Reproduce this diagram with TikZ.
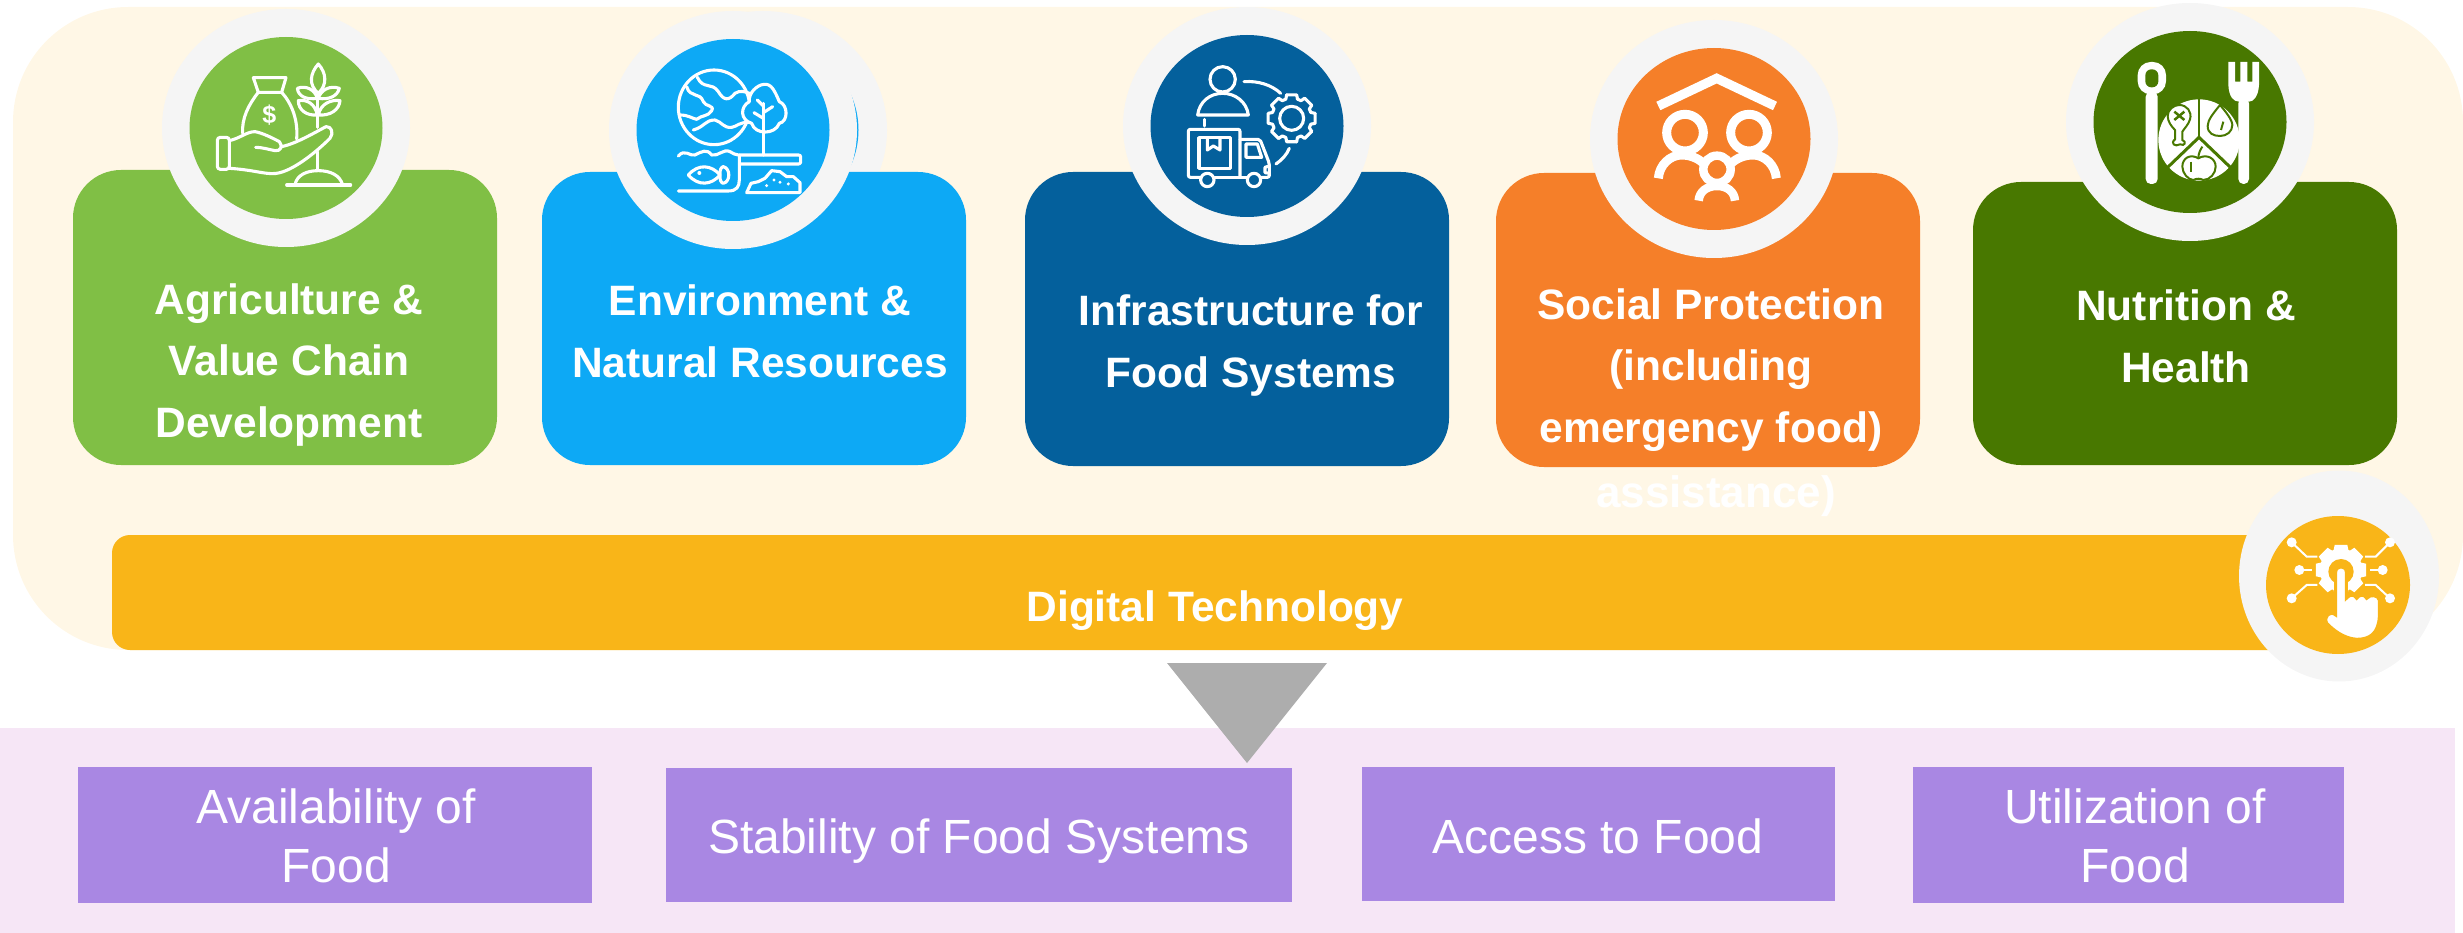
\documentclass[tikz,border=0pt]{standalone}
\usepackage{fontspec}
\setmainfont{Liberation Sans}
\usetikzlibrary{shapes.geometric}
\definecolor{creamback}{HTML}{FFF7E6}
\definecolor{ringgray}{HTML}{F5F5F5}
\definecolor{agrigreen}{HTML}{80BF45}
\definecolor{envblue}{HTML}{0DA9F5}
\definecolor{infranavy}{HTML}{04609C}
\definecolor{socialorange}{HTML}{F57F29}
\definecolor{nutrigreen}{HTML}{487800}
\definecolor{digitalamber}{HTML}{F9B518}
\definecolor{outcomepink}{HTML}{F6E6F6}
\definecolor{outcomepurple}{HTML}{A987E3}
\definecolor{arrowgray}{HTML}{ADADAD}
\tikzset{
	tilebox/.style={rectangle, rounded corners=48pt, minimum width=424pt, inner sep=0pt},
	ringouter/.style={ellipse, fill=ringgray, minimum width=248pt, minimum height=238pt, inner sep=0pt},
	ringinner/.style={ellipse, minimum width=193pt, minimum height=182pt, inner sep=0pt},
	titletext/.style={anchor=base, align=center, text=white, font=\fontsize{42.5}{61.5}\selectfont\bfseries},
	outcomebox/.style={rectangle, fill=outcomepurple, inner sep=0pt},
	outcometext/.style={anchor=base, align=center, text=white, font=\fontsize{48}{59}\selectfont},
	iconline/.style={draw=white, line width=3.1pt, line cap=round, line join=round}
}
\begin{document}
\begin{tikzpicture}[x=1pt, y=-1pt]
	\useasboundingbox (0,0) rectangle (2463,933);
	% back panels
	\fill[creamback, rounded corners=115pt] (13,7) rectangle (2463,650);
	\fill[outcomepink] (0,728) rectangle (2455,933);
	% second ring behind the environment one
	\node[ringouter] (ringenvback) at (763,130) {};
	\node[ringinner, fill=envblue] (discenvback) at (762,130) {};
	% tiles
	\foreach \nm/\cx/\top/\bot/\col in {tileagri/285/170/465/agrigreen, tileenv/754/172/465/envblue, tileinfra/1237/172/466/infranavy, tilesocial/1708/173/467/socialorange, tilenutri/2185/182/465/nutrigreen}
		\node[tilebox, fill=\col, minimum height=\bot pt-\top pt] (\nm) at (\cx, {(\top+\bot)/2}) {};
	% rings
	\foreach \nm/\cx/\cy/\col in {agri/286/128/agrigreen, env/733/130/envblue, infra/1247/126/infranavy, social/1714/139/socialorange, nutri/2190/122/nutrigreen}{
		\node[ringouter] (ring\nm) at (\cx,\cy) {};
		\node[ringinner, fill=\col] (disc\nm) at (\cx,\cy) {};
	}
	% tile texts
	\node[titletext] (textagri) at (289,437) {Agriculture \&\\Value Chain\\Development};
	\node[titletext] (textenv) at (760,377) {Environment \&\\Natural Resources};
	\node[titletext] (textinfra) at (1251,387) {Infrastructure for\\Food Systems};
	\node[titletext] (textsocial) at (1711,442) {Social Protection\\(including\\emergency food)};
	\node[titletext] (textnutri) at (2186,382) {Nutrition \&\\Health};
	\node[anchor=base, text=white, font=\fontsize{44}{50}\selectfont\bfseries] (textstray) at (1716,507) {assistance)};
	% digital bar
	\fill[digitalamber, rounded corners=18pt] (112,535) rectangle (2320,650);
	\node[titletext] (textdigital) at (1215,621) {Digital Technology};
	\node[ellipse, fill=ringgray, minimum width=200pt, minimum height=211pt, inner sep=0pt] (ringdigital) at (2339,576) {};
	\node[ellipse, fill=digitalamber, minimum width=144pt, minimum height=138pt, inner sep=0pt] (discdigital) at (2338,585) {};
	% arrow
	\fill[arrowgray] (1167,663) -- (1327,663) -- (1247,763) -- cycle;
	% outcomes
	\foreach \nm/\xa/\ya/\xb/\yb in {availbox/78/767/592/903, stabbox/666/768/1292/902, accessbox/1362/767/1835/901, utilbox/1913/767/2344/903}
		\node[outcomebox, minimum width=\xb pt-\xa pt, minimum height=\yb pt-\ya pt] (\nm) at ({(\xa+\xb)/2},{(\ya+\yb)/2}) {};
	\node[outcometext] (textavail) at (336,882) {Availability of\\Food};
	\node[outcometext] (textstab) at (979,853) {Stability of Food Systems};
	\node[outcometext] (textaccess) at (1598,853) {Access to Food};
	\node[outcometext] (textutil) at (2135,882) {Utilization of\\Food};
	% agriculture icon
	\begin{scope}[shift={(190,40)}, x=0.3333pt, y=-0.3333pt]
		\draw[iconline] (190,113) -- (288,113) -- (275,157) -- (205,157) -- cycle;
		\draw[iconline] (205,157) .. controls (175,195) and (155,235) .. (158,280);
		\draw[iconline] (275,157) .. controls (305,190) and (325,240) .. (320,297);
		\node[text=white, font=\fontsize{25}{25}\selectfont\bfseries] (dollarsign) at (238,226) {\$};
		\draw[iconline, rounded corners=3pt] (118,292) -- (82,292) -- (82,388) -- (118,388) -- cycle;
		\draw[iconline] (118,302) .. controls (150,295) and (170,275) .. (195,275) .. controls (215,278) and (250,295) .. (268,305) .. controls (280,318) and (272,335) .. (255,332) .. controls (235,328) and (215,322) .. (197,322);
		\draw[iconline] (275,320) .. controls (320,310) and (370,280) .. (408,260) .. controls (425,258) and (432,280) .. (420,295) .. controls (385,330) and (320,385) .. (270,398) .. controls (235,408) and (200,390) .. (118,385);
		\draw[iconline] (382,165) -- (382,262);
		\draw[iconline] (382,335) -- (382,392);
		\draw[iconline] (315,435) .. controls (320,405) and (350,392) .. (385,392) .. controls (420,392) and (450,405) .. (458,435);
		\draw[iconline] (290,435) -- (482,435);
		\draw[iconline] (385,72) .. controls (360,100) and (355,135) .. (385,160) .. controls (412,135) and (410,100) .. cycle;
		\draw[iconline] (322,145) .. controls (350,135) and (375,150) .. (382,175) .. controls (350,180) and (325,170) .. cycle;
		\draw[iconline] (448,145) .. controls (420,135) and (392,150) .. (385,175) .. controls (415,180) and (442,170) .. cycle;
		\draw[iconline] (325,182) .. controls (350,178) and (375,190) .. (382,225) .. controls (350,228) and (325,210) .. cycle;
		\draw[iconline] (450,182) .. controls (425,178) and (392,190) .. (385,225) .. controls (420,228) and (448,210) .. cycle;
	\end{scope}
	% environment icon
	\begin{scope}[shift={(640,40)}, x=0.3333pt, y=-0.3333pt]
		\draw[iconline] (222,202) ellipse [x radius=107, y radius=112];
		\draw[iconline] (172,112) .. controls (190,150) and (215,125) .. (235,155) .. controls (250,180) and (265,185) .. (285,160) .. controls (300,150) and (315,155) .. (328,160);
		\draw[iconline] (140,140) .. controls (150,175) and (180,155) .. (190,185) .. controls (195,200) and (225,195) .. (215,212) .. controls (205,230) and (185,225) .. (170,238) .. controls (155,235) and (145,225) .. (120,225);
		\draw[iconline] (160,270) .. controls (195,260) and (195,240) .. (225,240) .. controls (245,245) and (250,265) .. (275,262) .. controls (290,260) and (300,245) .. (325,248);
		\draw[iconline, fill=envblue] (372,133) .. controls (395,130) and (405,155) .. (418,185) .. controls (445,195) and (445,245) .. (418,250) .. controls (405,285) and (345,285) .. (335,250) .. controls (300,240) and (300,200) .. (328,185) .. controls (325,160) and (350,135) .. cycle;
		\draw[iconline] (370,190) -- (370,345);
		\draw[iconline] (352,180) -- (370,198);
		\draw[iconline] (398,200) -- (370,218);
		\draw[iconline] (342,218) -- (370,235);
		\draw[iconline] (115,348) .. controls (135,325) and (150,350) .. (165,345) .. controls (185,335) and (200,325) .. (215,345) .. controls (235,350) and (250,325) .. (270,335) .. controls (280,340) and (285,345) .. (295,345);
		\draw[iconline] (115,453) -- (265,453) .. controls (290,453) and (298,440) .. (298,420) -- (298,345);
		\draw[iconline, rounded corners=2pt] (298,345) -- (482,345) -- (482,372) -- (298,372);
		\draw[iconline] (145,405) .. controls (175,370) and (215,375) .. (240,405) .. controls (215,435) and (175,440) .. cycle;
		\draw[iconline] (240,405) .. controls (238,390) and (245,380) .. (250,380) .. controls (272,385) and (272,425) .. (250,430) .. controls (245,430) and (238,420) .. (240,405);
		\fill[white] (178,399) circle [radius=6];
		\draw[iconline] (320,458) -- (333,430) -- (355,425) -- (375,415) -- (395,392) -- (420,395) -- (440,410) -- (460,410) -- (480,428) -- (480,458) -- cycle;
		\foreach \dx/\dy in {380/437, 402/420, 420/427, 445/432}
			\fill[white] (\dx,\dy) circle [radius=5];
	\end{scope}
	% infrastructure icon
	\begin{scope}[shift={(1150,40)}, x=0.3333pt, y=-0.3333pt]
		\draw[iconline] (218,118) circle [radius=38];
		\draw[iconline] (143,225) -- (295,225) .. controls (290,185) and (255,160) .. (218,160) .. controls (180,160) and (148,185) .. cycle;
		\draw[iconline] (282,125) .. controls (325,122) and (365,135) .. (392,160);
		\draw[iconline] (418,325) .. controls (410,345) and (395,360) .. (378,372);
		\draw[iconline] (163,238) -- (163,258);
		\draw[iconline] (425,235) circle [radius=36];
		\foreach \a in {0,45,...,315}
			\draw[iconline] ([shift={(425,235)}]\a-12:72) -- ([shift={(425,235)}]\a+12:72) -- ([shift={(425,235)}]\a+17:60) -- ([shift={(425,235)}]\a+28:60) -- ([shift={(425,235)}]\a+33:72);
		\draw[iconline, rounded corners=2pt] (152,412) -- (115,412) -- (115,268) -- (270,268) -- (270,412);
		\draw[iconline, rounded corners=2pt] (270,298) -- (330,298) -- (358,370) -- (358,412) -- (335,412);
		\draw[iconline] (195,412) -- (290,412);
		\draw[iconline] (172,420) circle [radius=20];
		\draw[iconline] (312,420) circle [radius=20];
		\draw[iconline] (147,293) rectangle (242,385);
		\draw[iconline] (172,293) -- (172,330) -- (190,318) -- (210,330) -- (210,293);
		\draw[iconline] (288,312) -- (322,312) -- (335,352) -- (288,352) -- cycle;
		\draw[iconline] (358,378) -- (345,382) -- (345,398) -- (358,400);
	\end{scope}
	% social icon
	\begin{scope}[shift={(1620,50)}, x=0.3333pt, y=-0.3333pt, white]
		\draw[line width=9.3pt] (115,168) -- (290,85) -- (465,168);
		\foreach \hx in {195,387}
			\draw[line width=9pt] (\hx,248) circle [radius=55];
		\draw[line width=9pt] (115,385) .. controls (118,345) and (150,315) .. (185,315) .. controls (210,315) and (235,325) .. (250,340);
		\draw[line width=9pt] (469,385) .. controls (466,345) and (434,315) .. (399,315) .. controls (374,315) and (349,325) .. (334,340);
		\draw[line width=8.5pt] (291,358) circle [radius=41];
		\draw[line width=8.5pt] (236,452) .. controls (238,425) and (260,408) .. (291,408) .. controls (322,408) and (343,425) .. (345,452);
	\end{scope}
	% nutrition icon
	\begin{scope}[shift={(2095,30)}, x=0.3333pt, y=-0.3333pt]
		\fill[white, rounded corners=13pt] (128,96) rectangle (213,193);
		\fill[nutrigreen, rounded corners=6pt] (151,118) rectangle (190,172);
		\fill[white, rounded corners=5pt] (152,185) rectangle (188,462);
		\fill[white, rounded corners=5pt] (430,205) rectangle (462,462);
		\fill[white] (400,96) -- (420,96) -- (420,155) -- (436,155) -- (436,96) -- (457,96) -- (457,155) -- (472,155) -- (472,96) -- (492,96) -- (492,165) .. controls (490,200) and (475,215) .. (462,215) -- (432,215) .. controls (415,215) and (402,200) .. (400,165) -- cycle;
		\fill[white] (312,330) circle [radius=122];
		\draw[nutrigreen, line width=2pt] (312,205) -- (312,322);
		\draw[nutrigreen, line width=3pt] (218,412) -- (312,322) -- (406,412);
		\draw[nutrigreen, line width=2pt, fill=white] (253,225) .. controls (275,225) and (292,245) .. (285,268) .. controls (280,285) and (268,295) .. (262,305) -- (262,330) .. controls (275,335) and (270,350) .. (255,343) .. controls (240,352) and (225,340) .. (240,328) -- (240,300) .. controls (230,290) and (218,275) .. (218,258) .. controls (218,240) and (235,225) .. cycle;
		\draw[nutrigreen, line width=2.5pt] (238,245) -- (268,270);
		\draw[nutrigreen, line width=2.5pt] (268,245) -- (238,270);
		\draw[nutrigreen, line width=2pt, fill=white] (375,225) .. controls (355,250) and (338,270) .. (338,288) .. controls (338,310) and (355,318) .. (375,318) .. controls (395,318) and (412,305) .. (412,285) .. controls (412,270) and (392,245) .. cycle;
		\draw[nutrigreen, line width=2pt] (385,275) -- (378,300);
		\draw[nutrigreen, line width=2pt, fill=white] (310,385) .. controls (285,370) and (262,385) .. (262,410) .. controls (262,430) and (280,450) .. (295,450) .. controls (305,445) and (315,445) .. (325,450) .. controls (345,450) and (362,430) .. (362,410) .. controls (362,385) and (335,370) .. cycle;
		\draw[nutrigreen, line width=2pt] (322,350) .. controls (315,360) and (310,372) .. (310,385);
		\draw[nutrigreen, line width=2pt] (288,395) -- (288,425);
	\end{scope}
	% digital icon
	\begin{scope}[shift={(2260,510)}, x=0.3333pt, y=-0.3333pt]
		\foreach \ax/\ay/\bx/\by/\cx/\cy in {95/97/140/140/172/140, 390/97/347/140/315/140, 118/180/135/180/155/180, 368/180/350/180/330/180, 95/265/140/225/172/225, 390/265/347/225/315/225}{
			\fill[white] (\ax,\ay) circle [radius=15];
			\draw[white, line width=2pt] (\ax,\ay) -- (\bx,\by) -- (\cx,\cy);
		}
		\fill[white] (243,180) circle [radius=64];
		\foreach \a in {0,45,...,315}
			\fill[white] ([shift={(243,180)}]\a-14:78) -- ([shift={(243,180)}]\a+14:78) -- ([shift={(243,180)}]\a+24:58) -- ([shift={(243,180)}]\a-24:58) -- cycle;
		\fill[digitalamber] (243,185) circle [radius=38];
		\draw[digitalamber, line width=3pt, fill=white] (227,187) .. controls (227,165) and (259,165) .. (259,187) -- (259,265) .. controls (270,250) and (285,255) .. (290,265) .. controls (300,250) and (315,255) .. (320,265) .. controls (330,252) and (355,255) .. (358,270) -- (358,320) .. controls (355,370) and (330,388) .. (290,388) .. controls (250,385) and (220,360) .. (200,340) .. controls (190,320) and (210,300) .. (227,315) -- cycle;
	\end{scope}
\end{tikzpicture}
\end{document}
